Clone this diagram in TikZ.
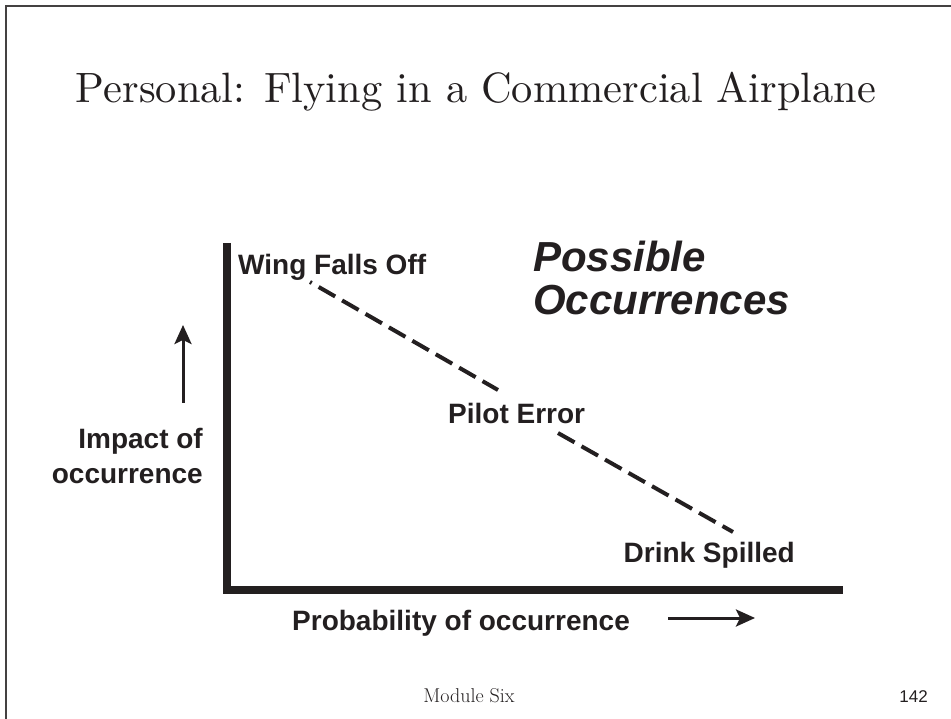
\documentclass[tikz,border=0pt]{standalone}
\usepackage{fontspec}
\newfontfamily\hv{Liberation Sans}
\usetikzlibrary{arrows.meta}
\definecolor{ink}{RGB}{35,31,32}
\begin{document}
\begin{tikzpicture}[x=1pt,y=-1pt,
  lbl/.style={inner sep=0pt, text=ink, font=\hv\bfseries\fontsize{28}{33}\selectfont},
  biglbl/.style={inner sep=0pt, text=ink, font=\hv\bfseries\itshape\fontsize{42}{48}\selectfont},
  axisline/.style={line width=8pt, draw=ink, line join=miter, line cap=butt},
  dashline/.style={line width=4pt, draw=ink, dash pattern=on 19pt off 8pt, dash phase=17pt},
  arr/.style={line width=3pt, draw=ink, -{Stealth[length=19pt,width=17pt,inset=4pt]}},
  frameline/.style={line width=2pt, draw=ink!85}]
\useasboundingbox (0,0) rectangle (951,719);
% slide frame
\coordinate (fbl) at (6,719);
\coordinate (ftl) at (6,6);
\coordinate (ftr) at (951,6);
\draw[frameline] (fbl) -- (ftl) -- (ftr);
% title
\node[inner sep=0pt, anchor=base, text=ink] (title) at (476,103)
  {\resizebox{800pt}{!}{Personal: Flying in a Commercial Airplane}};
% axes
\coordinate (ytop) at (227,243);
\coordinate (orig) at (227,590);
\coordinate (xend) at (843,590);
\draw[axisline] (ytop) -- (orig) -- (xend);
% labels
\node[lbl, anchor=base west] (wing) at (238,275) {Wing Falls Off};
\node[lbl, anchor=base west] (pilot) at (448,423) {Pilot Error};
\node[lbl, anchor=base east] (drink) at (795,562) {Drink Spilled};
\node[lbl, anchor=base east] (imp1) at (203,448) {Impact of};
\node[lbl, anchor=base east] (imp2) at (203,483) {occurrence};
\node[lbl, anchor=base west] (prob) at (292,630) {Probability of occurrence};
\node[biglbl, anchor=base west] (poss) at (533,272) {Possible};
\node[biglbl, anchor=base west] (occ) at (533,315) {Occurrences};
% dashed trend
\coordinate (d1) at (310,282);
\coordinate (d2) at (498,390);
\coordinate (d3) at (558,433);
\coordinate (d4) at (733,532);
\draw[dashline] (d1) -- (d2);
\draw[dashline, dash phase=0pt] (d3) -- (d4);
% arrows
\coordinate (ua1) at (183,403);
\coordinate (ua2) at (183,325);
\draw[arr] (ua1) -- (ua2);
\coordinate (ra1) at (668,618);
\coordinate (ra2) at (755,618);
\draw[arr] (ra1) -- (ra2);
% footer
\node[inner sep=0pt, anchor=base, text=ink, font=\fontsize{20}{24}\selectfont] (mod) at (469,702) {Module Six};
\node[inner sep=0pt, anchor=base east, text=ink, font=\hv\fontsize{17}{20}\selectfont] (pg) at (928,702) {142};
\end{tikzpicture}
\end{document}
